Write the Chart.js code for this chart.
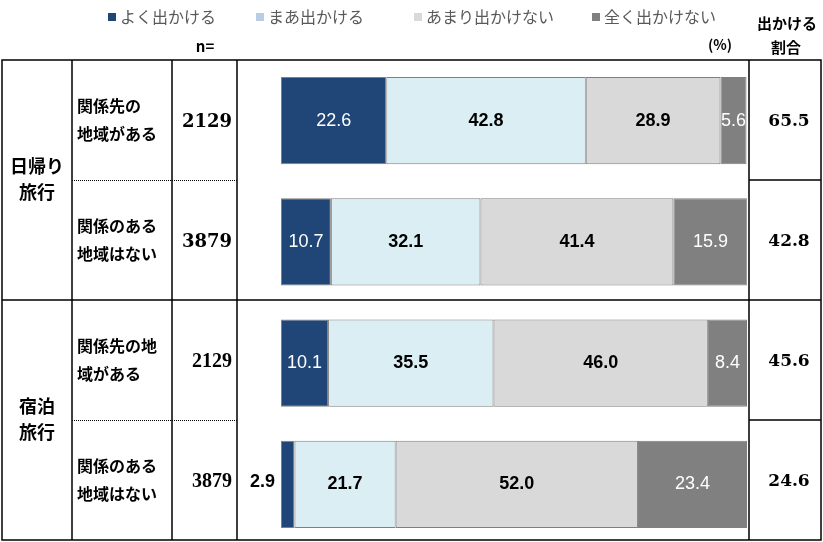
<!DOCTYPE html>
<html>
<head>
<meta charset="utf-8">
<script src="https://cdn.jsdelivr.net/npm/chart.js@4/dist/chart.umd.min.js"></script>
<style>
html,body{margin:0;padding:0;background:#fff;overflow:hidden;}
#wrap{position:relative;width:823px;height:542px;overflow:hidden;}
canvas{display:block;}
</style>
</head>
<body>
<div id="wrap"><canvas id="c" width="823" height="550"></canvas></div>
<script>
// ---- data ----
const groups = ['日帰り旅行', '宿泊旅行'];
const groupLines = [['日帰り', '旅行'], ['宿泊', '旅行']];
const categories = ['関係先の地域がある', '関係のある地域はない', '関係先の地域がある', '関係のある地域はない'];
const rowLabelLines = [['関係先の', '地域がある'], ['関係のある', '地域はない'], ['関係先の地', '域がある'], ['関係のある', '地域はない']];
const nValues = ['2129', '3879', '2129', '3879'];
const seriesNames = ['よく出かける', 'まあ出かける', 'あまり出かけない', '全く出かけない'];
const often = [22.6, 10.7, 10.1, 2.9];
const sometimes = [42.8, 32.1, 35.5, 21.7];
const rarely = [28.9, 41.4, 46.0, 52.0];
const never = [5.6, 15.9, 8.4, 23.4];
const goRate = ['65.5', '42.8', '45.6', '24.6'];

const barColors = ['#1f4677', '#daeef3', '#d9d9d9', '#808080'];
const legendColors = ['#1f4677', '#b9cde5', '#d9d9d9', '#808080'];
const labelStyles = [
  {color: '#ffffff', font: '18px "Liberation Sans", Arial, sans-serif'},
  {color: '#000000', font: 'bold 18px "Liberation Sans", Arial, sans-serif'},
  {color: '#000000', font: 'bold 18px "Liberation Sans", Arial, sans-serif'},
  {color: '#ffffff', font: '18px "Liberation Sans", Arial, sans-serif'}
];

const JP = '"Noto Sans CJK JP", sans-serif';

const tablePlugin = {
  id: 'tablePlugin',
  afterDraw(chart) {
    const ctx = chart.ctx;
    const L = 2, R = 821, T = 60, B = 540;
    const cols = [72, 172, 237, 749];
    const rowH = (B - T) / categories.length;
    const rowC = categories.map((_, i) => T + rowH * (i + 0.5));
    const sep = T + rowH * 2;
    const mid1 = T + rowH;
    const mid2 = T + rowH * 3;
    ctx.save();
    // lines
    ctx.strokeStyle = '#000';
    ctx.lineWidth = 1.5;
    ctx.strokeRect(L, T, R - L, B - T);
    ctx.beginPath();
    cols.forEach(x => { ctx.moveTo(x, T); ctx.lineTo(x, B); });
    ctx.moveTo(L, sep); ctx.lineTo(R, sep);
    ctx.moveTo(cols[3], mid1); ctx.lineTo(R, mid1);
    ctx.moveTo(cols[3], mid2); ctx.lineTo(R, mid2);
    ctx.stroke();
    ctx.beginPath();
    ctx.lineWidth = 1;
    ctx.setLineDash([1, 1]);
    [mid1, mid2].forEach(m => { ctx.moveTo(cols[0], Math.round(m) + 0.5); ctx.lineTo(cols[2], Math.round(m) + 0.5); });
    ctx.stroke();
    ctx.setLineDash([]);

    // group labels
    ctx.fillStyle = '#000';
    ctx.textBaseline = 'middle';
    ctx.textAlign = 'center';
    ctx.font = 'bold 18px ' + JP;
    [mid1, mid2].forEach((m, g) => {
      ctx.fillText(groupLines[g][0], 37, m - 14);
      ctx.fillText(groupLines[g][1], 37, m + 12);
    });
    // row labels
    ctx.textAlign = 'left';
    ctx.font = 'bold 16px ' + JP;
    rowLabelLines.forEach((lines, i) => {
      ctx.fillText(lines[0], 77, rowC[i] - 14);
      ctx.fillText(lines[1], 77, rowC[i] + 14);
    });
    // n values
    ctx.textAlign = 'right';
    nValues.forEach((v, i) => {
      ctx.font = i < 2 ? 'bold 18px "DejaVu Serif", serif' : 'bold 20px "Liberation Serif", serif';
      ctx.fillText(v, 232, rowC[i] + 2);
    });
    // go rate
    ctx.textAlign = 'center';
    ctx.font = 'bold 17px "DejaVu Serif", serif';
    goRate.forEach((v, i) => ctx.fillText(v, 789, rowC[i] + 2));

    // headers
    ctx.font = 'bold 15px ' + JP;
    ctx.fillText('n=', 205, 46);
    ctx.fillText('出かける', 787, 23);
    ctx.fillText('割合', 786, 47);
    ctx.font = 'bold 14px ' + JP;
    ctx.fillText('(%)', 720, 45);

    // legend
    const legX = [108, 256, 414, 592];
    ctx.textAlign = 'left';
    ctx.font = '16px ' + JP;
    seriesNames.forEach((s, i) => {
      ctx.fillStyle = legendColors[i];
      ctx.fillRect(legX[i], 13, 8, 8);
      ctx.fillStyle = '#595959';
      ctx.fillText(s, legX[i] + 12, 17);
    });

    // data labels
    chart.data.datasets.forEach((ds, di) => {
      const meta = chart.getDatasetMeta(di);
      meta.data.forEach((el, i) => {
        const v = ds.data[i];
        const txt = v.toFixed(1);
        if (di === 0 && v < 5) {
          ctx.fillStyle = '#000';
          ctx.font = 'bold 18px "Liberation Sans", Arial, sans-serif';
          ctx.textAlign = 'right';
          ctx.fillText(txt, Math.min(el.x, el.base) - 6, el.y - 2);
          return;
        }
        ctx.fillStyle = labelStyles[di].color;
        ctx.font = labelStyles[di].font;
        ctx.textAlign = 'center';
        const cx = (el.x + el.base) / 2;
        ctx.fillText(txt, cx, el.y);
      });
    });
    ctx.restore();
  }
};

const seriesData = [often, sometimes, rarely, never];
new Chart(document.getElementById('c'), {
  type: 'bar',
  data: {
    labels: categories,
    datasets: seriesNames.map((name, i) => ({
      label: name,
      data: seriesData[i],
      backgroundColor: barColors[i],
      borderColor: '#7f7f7f',
      borderWidth: 1,
      borderSkipped: false,
      barPercentage: 0.718,
      categoryPercentage: 1.0
    }))
  },
  options: {
    indexAxis: 'y',
    responsive: false,
    animation: false,
    layout: {padding: {left: 281, right: 76, top: 60, bottom: 5}},
    scales: {
      x: {stacked: true, min: 0, max: 100, display: false},
      y: {stacked: true, display: false}
    },
    plugins: {legend: {display: false}, tooltip: {enabled: false}}
  },
  plugins: [tablePlugin]
});
</script>
</body>
</html>
